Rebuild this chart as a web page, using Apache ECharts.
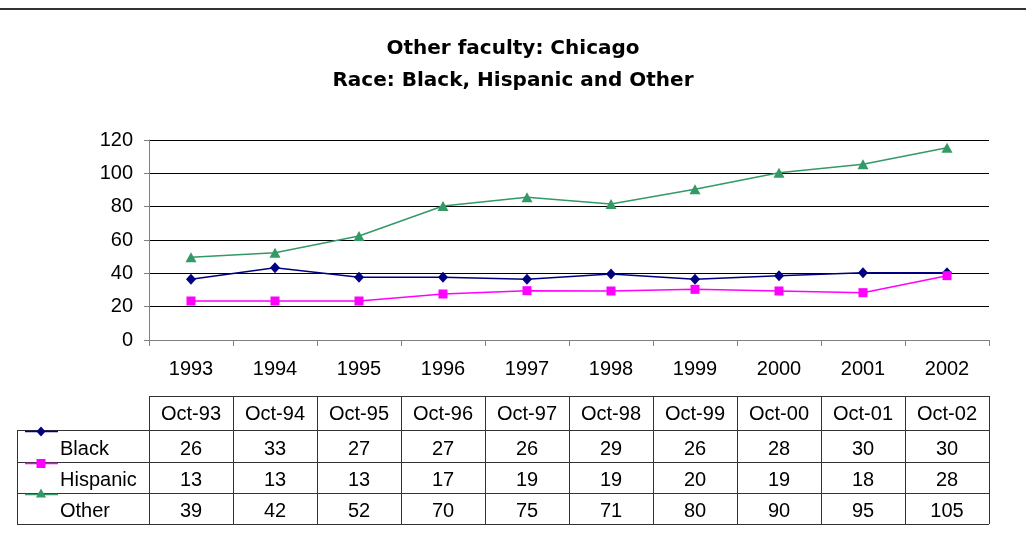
<!DOCTYPE html>
<html>
<head>
<meta charset="utf-8" />
<title>Other faculty: Chicago</title>
<script src="https://cdn.jsdelivr.net/npm/echarts@6/dist/echarts.min.js"></script>
<style>html,body{margin:0;padding:0;background:#fff}</style>
</head>
<body>
<div id="main" style="width:1026px;height:537px"></div>
<script type="text/javascript">
var years = ['1993', '1994', '1995', '1996', '1997', '1998', '1999', '2000', '2001', '2002'];
var months = ['Oct-93', 'Oct-94', 'Oct-95', 'Oct-96', 'Oct-97', 'Oct-98', 'Oct-99', 'Oct-00', 'Oct-01', 'Oct-02'];
var seriesNames = ['Black', 'Hispanic', 'Other'];

// where the lines sit on the chart (they run about 10 above the table numbers)
var blackPlot = [36.4, 43.4, 37.6, 37.6, 36.4, 39.6, 36.4, 38.6, 40.4, 40.4];
var hispanicPlot = [23.4, 23.4, 23.4, 27.6, 29.6, 29.4, 30.4, 29.4, 28.4, 38.6];
var otherPlot = [49.6, 52.4, 62.4, 80.4, 85.6, 81.6, 90.4, 100.4, 105.4, 115.4];

// numbers printed in the data table
var blackTable = [26, 33, 27, 27, 26, 29, 26, 28, 30, 30];
var hispanicTable = [13, 13, 13, 17, 19, 19, 20, 19, 18, 28];
var otherTable = [39, 42, 52, 70, 75, 71, 80, 90, 95, 105];

var yTicks = [0, 20, 40, 60, 80, 100, 120];
</script>

<script type="text/javascript">
var colors = ['#000080', '#ff00ff', '#339966'];
var symbols = ['diamond', 'rect', 'triangle'];
var symbolSizes = [[10, 11], [9, 9], [11, 10]];
var plotData = [blackPlot, hispanicPlot, otherPlot];
var tableData = [blackTable, hispanicTable, otherTable];
var bodyFont = '"Liberation Sans", Arial, sans-serif';

var myChart = echarts.init(document.getElementById('main'));

var option = {
  animation: false,
  backgroundColor: '#fff',
  title: {
    text: 'Other faculty: Chicago\nRace: Black, Hispanic and Other',
    left: 'center',
    top: 28,
    textStyle: {
      fontFamily: '"DejaVu Sans", sans-serif',
      fontWeight: 'bold',
      fontSize: 20,
      lineHeight: 32,
      color: '#000'
    }
  },
  grid: { left: 149, right: 37, top: 140, bottom: 197 },
  xAxis: {
    type: 'category',
    data: years,
    axisLine: { lineStyle: { color: '#808080', width: 1 } },
    axisTick: { show: true, length: 6, lineStyle: { color: '#808080' } },
    axisLabel: { color: '#000', fontSize: 20, fontFamily: bodyFont, margin: 19 }
  },
  yAxis: {
    type: 'value',
    min: yTicks[0],
    max: yTicks[yTicks.length - 1],
    interval: 20,
    axisLine: { show: true, lineStyle: { color: '#808080', width: 1 } },
    axisTick: { show: true, length: 5, lineStyle: { color: '#808080' } },
    axisLabel: { color: '#000', fontSize: 20, fontFamily: bodyFont, margin: 16 },
    splitLine: { lineStyle: { color: '#000', width: 1 } }
  },
  series: seriesNames.map(function (name, i) {
    return {
      name: name,
      type: 'line',
      data: plotData[i],
      symbol: symbols[i],
      symbolSize: symbolSizes[i],
      itemStyle: { color: colors[i] },
      lineStyle: { color: colors[i], width: 1.5 }
    };
  })
};

myChart.setOption(option);

// data table under the chart, columns lined up with the category axis
var centers = years.map(function (y, i) {
  return myChart.convertToPixel({ xAxisIndex: 0 }, i);
});
var cw = centers[1] - centers[0];
var colEdges = [centers[0] - cw / 2];
centers.forEach(function (c) { colEdges.push(c + cw / 2); });
var tableLeft = 17;
var rowEdges = [396, 430, 462, 493, 524];
var lineColor = '#333';
var els = [];

function px(v) { return Math.round(v) + 0.5; }
function hline(x1, x2, y, w, c) {
  els.push({ type: 'line', silent: true, shape: { x1: x1, y1: px(y), x2: x2, y2: px(y) },
    style: { stroke: c || lineColor, lineWidth: w || 1 } });
}
function vline(x, y1, y2) {
  els.push({ type: 'line', silent: true, shape: { x1: px(x), y1: y1, x2: px(x), y2: y2 },
    style: { stroke: lineColor, lineWidth: 1 } });
}
function text(str, x, y, align) {
  els.push({ type: 'text', silent: true, x: x, y: y,
    style: { text: str, font: '20px ' + bodyFont, fill: '#000',
      textAlign: align || 'center', textVerticalAlign: 'middle' } });
}

// top rule
els.push({ type: 'line', silent: true, shape: { x1: 0, y1: 9, x2: 1026, y2: 9 },
  style: { stroke: '#333', lineWidth: 2 } });

// header row
hline(colEdges[0], colEdges[colEdges.length - 1], rowEdges[0]);
months.forEach(function (m, i) { text(m, centers[i], (rowEdges[0] + rowEdges[1]) / 2 + 1); });
// row lines
for (var r = 1; r < rowEdges.length; r++) {
  hline(tableLeft, colEdges[colEdges.length - 1], rowEdges[r]);
}
// column lines
colEdges.forEach(function (x) { vline(x, rowEdges[0], rowEdges[rowEdges.length - 1]); });
vline(tableLeft, rowEdges[1], rowEdges[rowEdges.length - 1]);

// body rows with legend keys
seriesNames.forEach(function (name, i) {
  var top = rowEdges[i + 1], bot = rowEdges[i + 2];
  var cy = (top + bot) / 2 + 3;
  text(name, 60, cy, 'left');
  tableData[i].forEach(function (v, j) { text(String(v), centers[j], cy); });

  var ky = top + 1.5;
  els.push({ type: 'line', silent: true, shape: { x1: 25, y1: ky, x2: 58, y2: ky },
    style: { stroke: colors[i], lineWidth: 1.5 } });
  var kx = 41;
  if (symbols[i] === 'diamond') {
    els.push({ type: 'polygon', silent: true,
      shape: { points: [[kx, ky - 5], [kx + 4.5, ky], [kx, ky + 5], [kx - 4.5, ky]] },
      style: { fill: colors[i] } });
  } else if (symbols[i] === 'rect') {
    els.push({ type: 'rect', silent: true, shape: { x: kx - 4.5, y: ky - 4.5, width: 9, height: 9 },
      style: { fill: colors[i] } });
  } else {
    els.push({ type: 'polygon', silent: true,
      shape: { points: [[kx, ky - 6], [kx + 5, ky + 3], [kx - 5, ky + 3]] },
      style: { fill: colors[i] } });
  }
});

myChart.setOption({ graphic: { elements: els } });
</script>
</body>
</html>
